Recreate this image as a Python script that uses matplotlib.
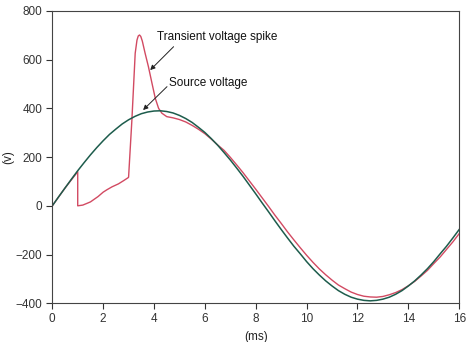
import matplotlib
matplotlib.use("Agg")
import matplotlib.pyplot as plt

plt.rcParams['font.family'] = ['Liberation Sans', 'DejaVu Sans']

# source voltage, sampled every 0.25 ms
src_t = [i * 0.25 for i in range(65)]
src_v = [0, 37, 73, 109, 144, 177, 209, 239, 267, 293, 315, 336, 353, 367,
         378, 385, 389, 390, 387, 381, 371, 358, 342, 322, 301, 276, 249,
         219, 188, 155, 121, 85, 49, 12, -24, -61, -97, -132, -166, -197,
         -229, -258, -284, -308, -329, -348, -363, -375, -383, -388, -390,
         -388, -383, -375, -363, -348, -329, -308, -284, -258, -229, -197,
         -166, -132, -97]

# distorted waveform with the switching transient
spk_t = [0, 0.5, 1.0, 1.0, 1.2, 1.5, 1.8, 2.0, 2.15, 2.35, 2.6, 2.8, 2.99,
         3.0, 3.13, 3.26, 3.33, 3.38, 3.43, 3.48, 3.54, 3.65, 3.78, 3.92,
         4.05, 4.18, 4.31, 4.5, 4.75, 5, 5.25, 5.5, 5.75, 6, 6.25, 6.5,
         6.75, 7, 7.25, 7.5, 7.75, 8, 8.25, 8.5, 8.75, 9, 9.25, 9.5, 9.75,
         10, 10.25, 10.5, 10.75, 11, 11.25, 11.5, 11.75, 12, 12.25, 12.5,
         12.75, 13, 13.25, 13.5, 13.75, 14, 14.25, 14.5, 14.75, 15, 15.25,
         15.5, 15.75, 16]
spk_v = [0, 73, 140, 0, 3, 16, 38, 56, 66, 78, 90, 103, 116,
         118, 352, 626, 680, 697, 701, 695, 676, 626, 571, 503,
         441, 400, 380, 366, 361, 354, 344, 330, 314, 296, 274, 250,
         228, 199, 168, 136, 102, 68, 33, -2, -38, -72, -107, -140, -172,
         -203, -232, -259, -283, -305, -325, -340, -354, -364, -371, -374,
         -375, -372, -365, -356, -344, -328, -310, -288, -265, -237, -210,
         -179, -148, -114]

fig = plt.figure(figsize=(4.71, 3.42), dpi=100)
ax = fig.add_axes([0.111, 0.1132, 0.864, 0.855])

ax.plot(spk_t, spk_v, color='#d24a62', lw=1.0)
ax.plot(src_t, src_v, color='#1d5c4c', lw=1.1)

ax.set_xlim(0, 16)
ax.set_ylim(-400, 800)
ax.set_xticks(range(0, 17, 2))
ax.set_yticks(range(-400, 801, 200))
ax.set_yticklabels(['\u2212400', '\u2212200', '0', '200', '400', '600', '800'])
ax.tick_params(direction='out', length=4, width=0.8, labelsize=8.5,
               colors='#333333', pad=3, top=False, right=False)
for s in ax.spines.values():
    s.set_color('#444444')
    s.set_linewidth(0.8)

ax.set_xlabel('(ms)', fontsize=8.5, labelpad=4, color='#222222')
ax.set_ylabel('(v)', fontsize=8.5, labelpad=1, color='#222222')

arrow = dict(arrowstyle='-|>', color='#222222', lw=0.7,
             mutation_scale=7, shrinkA=0, shrinkB=0)
ax.annotate('', xy=(3.85, 557), xytext=(4.77, 653), arrowprops=arrow)
ax.text(4.12, 692, 'Transient voltage spike', fontsize=8.5, va='center',
        color='#111111')
ax.annotate('', xy=(3.57, 393), xytext=(4.51, 489), arrowprops=arrow)
ax.text(4.6, 505, 'Source voltage', fontsize=8.5, va='center',
        color='#111111')

fig.savefig('out.png', dpi=100)
